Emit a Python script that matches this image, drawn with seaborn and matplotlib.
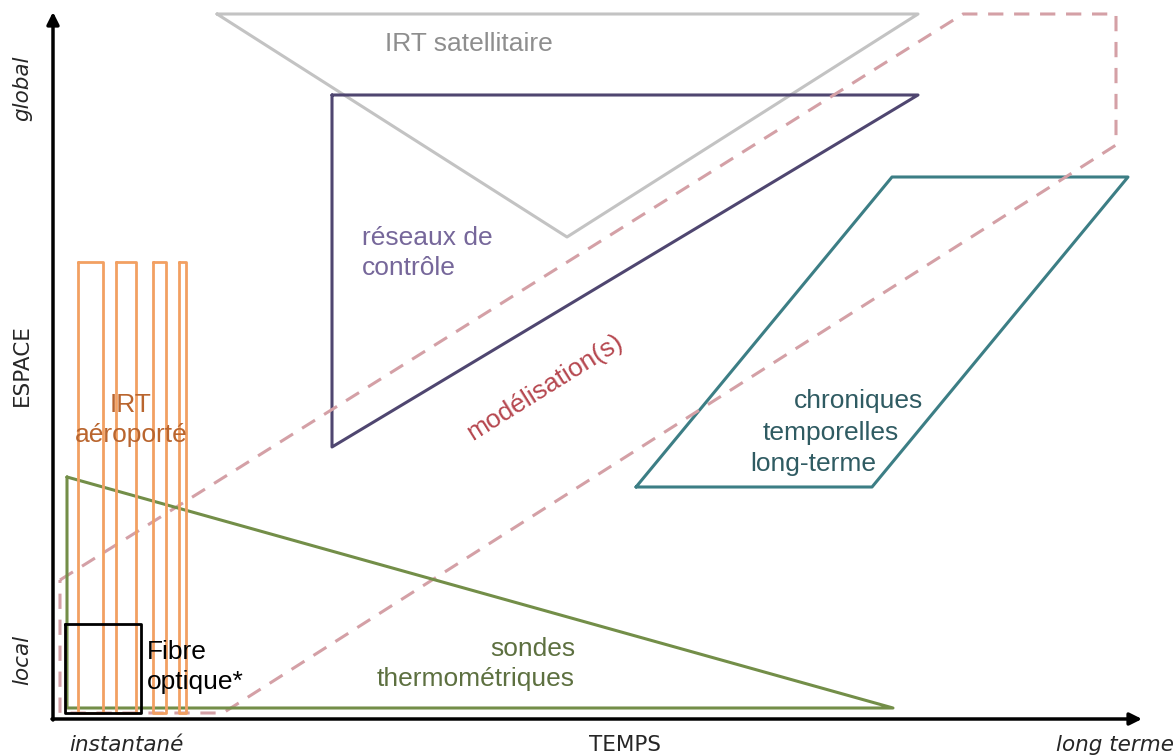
import matplotlib
matplotlib.use("Agg")
import matplotlib.pyplot as plt
import seaborn as sns
import pandas as pd

sns.set_style("white")
plt.rcParams['font.family'] = ['Liberation Sans', 'DejaVu Sans']

# --- diagram geometry (pixel-like units, y grows downward) ---
# x = TEMPS (instantane -> long terme), y = ESPACE (global at top, local at bottom)
satellite_x = [217, 918, 567, 217]
satellite_y = [14, 14, 237, 14]

reseaux_x = [332, 918, 332, 332]
reseaux_y = [95, 95, 447, 95]

chroniques_x = [636, 872, 1128, 892, 636]
chroniques_y = [487, 487, 177, 177, 487]

sondes_x = [67, 67, 893, 67]
sondes_y = [477, 708, 708, 477]

modelisation_x = [60, 963, 1116, 1116, 223, 60, 60]
modelisation_y = [580, 14, 14, 145, 713, 713, 580]

fibre_x = [65, 141, 141, 65, 65]
fibre_y = [624, 624, 713, 713, 624]

# IRT aeroporte: four narrow strips (left, right edges)
aeroporte_left = [78, 116, 153, 179]
aeroporte_right = [103, 136, 166, 186]
aeroporte_top = 262
aeroporte_bottom = 713

# colours
C_SAT, C_SAT_TXT = "#c3c3c3", "#8e8e8e"
C_RES, C_RES_TXT = "#4f4670", "#76679a"
C_CHR, C_CHR_TXT = "#3c7e85", "#2f5b62"
C_SON, C_SON_TXT = "#738e48", "#5d7040"
C_MOD, C_MOD_TXT = "#d4a0a6", "#b6474f"
C_AER, C_AER_TXT = "#f2a062", "#b9652e"


def draw_shape(ax, xs, ys, color, lw=2.2, ls="-"):
    df = pd.DataFrame({"x": xs, "y": ys})
    sns.lineplot(data=df, x="x", y="y", sort=False, estimator=None, ax=ax,
                 color=color, linewidth=lw, linestyle=ls, legend=False)


fig = plt.figure(figsize=(11.76, 7.55), dpi=100)
ax = fig.add_axes([0, 0, 1, 1])

draw_shape(ax, satellite_x, satellite_y, C_SAT)
draw_shape(ax, reseaux_x, reseaux_y, C_RES)
draw_shape(ax, chroniques_x, chroniques_y, C_CHR)
draw_shape(ax, modelisation_x, modelisation_y, C_MOD, lw=2.2, ls=(0, (5, 3.5)))
draw_shape(ax, sondes_x, sondes_y, C_SON)
for l, r in zip(aeroporte_left, aeroporte_right):
    draw_shape(ax, [l, r, r, l, l],
               [aeroporte_top, aeroporte_top, aeroporte_bottom, aeroporte_bottom, aeroporte_top],
               C_AER, lw=2.0)
draw_shape(ax, fibre_x, fibre_y, "black", lw=2.0)

# axes arrows
arrow = dict(arrowstyle='-|>', lw=2.5, color='black', mutation_scale=18, shrinkA=0, shrinkB=0)
ax.annotate('', xy=(53, 12), xytext=(53, 720), arrowprops=arrow)
ax.annotate('', xy=(1142, 719), xytext=(52, 719), arrowprops=arrow)

fs = 19
ls_ = 1.3
ax.text(469, 44, "IRT satellitaire", color=C_SAT_TXT, fontsize=fs, ha='center', va='center')
ax.text(362, 253, "réseaux de\ncontrôle", color=C_RES_TXT, fontsize=fs, ha='left', va='center',
        linespacing=ls_)
ax.text(545, 387, "modélisation(s)", color=C_MOD_TXT, fontsize=fs, ha='center', va='center',
        rotation=32, rotation_mode='anchor')
ax.text(131, 420, "IRT\naéroporté", color=C_AER_TXT, fontsize=fs, ha='center', va='center',
        linespacing=ls_)
ax.text(923, 401, "chroniques", color=C_CHR_TXT, fontsize=fs, ha='right', va='center')
ax.text(899, 433, "temporelles", color=C_CHR_TXT, fontsize=fs, ha='right', va='center')
ax.text(876, 464, "long-terme", color=C_CHR_TXT, fontsize=fs, ha='right', va='center')
ax.text(575, 664, "sondes\nthermométriques", color=C_SON_TXT, fontsize=fs, ha='right', va='center',
        multialignment='right', linespacing=ls_)
ax.text(147, 667, "Fibre\noptique*", color="black", fontsize=fs, ha='left', va='center',
        linespacing=ls_)

narrow = ['Liberation Sans Narrow', 'DejaVu Sans']
lfs = 15.5
ax.text(22, 88, "global", fontsize=lfs, style='italic', rotation=90, ha='center', va='center', family=narrow)
ax.text(22, 365, "ESPACE", fontsize=lfs, rotation=90, ha='center', va='center', family=narrow)
ax.text(22, 660, "local", fontsize=lfs, style='italic', rotation=90, ha='center', va='center', family=narrow)
ax.text(126, 745, "instantané", fontsize=lfs, style='italic', ha='center', va='center', family=narrow)
ax.text(625, 745, "TEMPS", fontsize=lfs, ha='center', va='center', family=narrow)
ax.text(1174, 745, "long terme", fontsize=lfs, style='italic', ha='right', va='center', family=narrow)

ax.set_xlim(0, 1176)
ax.set_ylim(755, 0)
ax.axis('off')

fig.savefig("out.png", dpi=100)
